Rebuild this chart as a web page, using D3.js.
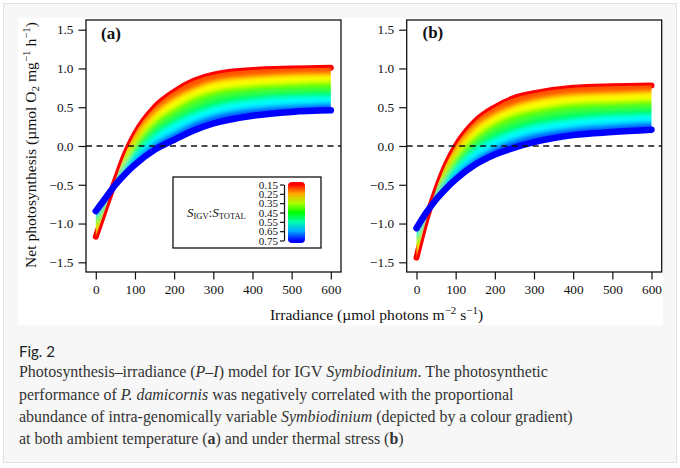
<!DOCTYPE html>
<html lang="en">
<head>
<meta charset="UTF-8">
<title>P–I model for IGV Symbiodinium</title>
<script src="https://d3js.org/d3.v7.min.js"></script>
<style>
  body { margin: 0; background: #fff; }
  svg { display: block; }
  .tick text { font-family: "Liberation Serif", serif; font-size: 13.3px; fill: #111; }
  .tick line { stroke: #111; stroke-width: 1.2; }
  .frame { fill: none; stroke: #111; stroke-width: 1.3; }
  .zero { stroke: #111; stroke-width: 1.4; stroke-dasharray: 6,4.5; }
  .axis-title { font-family: "Liberation Serif", serif; font-size: 15.6px; fill: #111; }
  .panel-tag { font-family: "Liberation Serif", serif; font-size: 17px; font-weight: bold; fill: #111; }
  .caption { font-family: "Liberation Serif", serif; font-size: 16px; fill: #333; }
  .fig-no { font-family: Lato, sans-serif; font-size: 15px; fill: #222; }
</style>
</head>
<body>
<div id="chart"></div>
<script>
const irradiance = [0, 25, 50, 75, 100, 150, 200, 250, 300, 400, 500, 600];
const ratioLevels = [0.15, 0.25, 0.35, 0.45, 0.55, 0.65, 0.75];

// net photosynthesis, one row per S_IGV:S_TOTAL level (0.15 -> 0.75)
const ambientNP = [
  [-1.17, -0.80, -0.44, -0.10, 0.16, 0.50, 0.70, 0.84, 0.92, 0.98, 1.00, 1.01],
  [-1.12, -0.78, -0.45, -0.14, 0.09, 0.41, 0.60, 0.73, 0.82, 0.88, 0.91, 0.92],
  [-1.06, -0.76, -0.46, -0.19, 0.03, 0.32, 0.49, 0.63, 0.71, 0.78, 0.81, 0.83],
  [-1.01, -0.74, -0.47, -0.23, -0.04, 0.23, 0.39, 0.52, 0.61, 0.69, 0.72, 0.73],
  [-0.95, -0.71, -0.48, -0.27, -0.11, 0.13, 0.29, 0.41, 0.50, 0.59, 0.63, 0.64],
  [-0.90, -0.69, -0.49, -0.32, -0.17, 0.04, 0.18, 0.31, 0.40, 0.49, 0.53, 0.55],
  [-0.84, -0.67, -0.50, -0.36, -0.24, -0.05, 0.08, 0.20, 0.29, 0.39, 0.44, 0.46]
];
const stressNP = [
  [-1.44, -0.95, -0.56, -0.24, 0.00, 0.32, 0.50, 0.62, 0.68, 0.75, 0.77, 0.78],
  [-1.38, -0.94, -0.58, -0.29, -0.07, 0.23, 0.40, 0.51, 0.58, 0.65, 0.67, 0.69],
  [-1.31, -0.92, -0.60, -0.34, -0.14, 0.13, 0.30, 0.41, 0.47, 0.55, 0.57, 0.59],
  [-1.25, -0.91, -0.63, -0.40, -0.22, 0.04, 0.20, 0.30, 0.37, 0.45, 0.48, 0.50],
  [-1.19, -0.89, -0.65, -0.45, -0.29, -0.05, 0.09, 0.19, 0.26, 0.34, 0.38, 0.40],
  [-1.12, -0.87, -0.67, -0.50, -0.36, -0.15, -0.01, 0.09, 0.16, 0.24, 0.28, 0.31],
  [-1.06, -0.86, -0.69, -0.55, -0.43, -0.24, -0.11, -0.02, 0.05, 0.14, 0.18, 0.21]
];

const xTicks = [0, 100, 200, 300, 400, 500, 600];
const yTicks = [-1.5, -1.0, -0.5, 0.0, 0.5, 1.0, 1.5];
const panelTags = ["(a)", "(b)"];

const captionLines = [
  [["Photosynthesis–irradiance ("], ["P–I", "i"], [") model for IGV "], ["Symbiodinium", "i"], [". The photosynthetic"]],
  [["performance of "], ["P. damicornis", "i"], [" was negatively correlated with the proportional"]],
  [["abundance of intra-genomically variable "], ["Symbiodinium", "i"], [" (depicted by a colour gradient)"]],
  [["at both ambient temperature ("], ["a", "b"], [") and under thermal stress ("], ["b", "b"], [")"]]
];

const W = 680, H = 468;
const svg = d3.select("#chart").append("svg").attr("width", W).attr("height", H);
const defs = svg.append("defs");

// page card + white figure
svg.append("rect").attr("x", 3.5).attr("y", 3.5).attr("width", 673).attr("height", 459)
  .attr("fill", "#f7f7f7").attr("stroke", "#e2e2e2");
svg.append("rect").attr("x", 18).attr("y", 18).attr("width", 645).attr("height", 307).attr("fill", "#fff");

const hue = d3.scaleLinear().domain([0.15, 0.75]).range([0, 240]);
const colour = s => d3.hsl(hue(s), 1, 0.5).formatHex();

const soft = defs.append("filter").attr("id", "soft")
  .attr("x", "-5%").attr("y", "-10%").attr("width", "110%").attr("height", "120%");
soft.append("feGaussianBlur").attr("stdDeviation", 2.4);
soft.append("feComponentTransfer").append("feFuncA").attr("type", "linear").attr("slope", 25);

const yTop = 20, yBot = 272;
const y = d3.scaleLinear().domain([-1.625, 1.625]).range([yBot, yTop]);

const panels = [
  { x0: 86, x1: 341, curves: ambientNP, tag: panelTags[0], tagX: 101, tagY: 39 },
  { x0: 406.7, x1: 661.7, curves: stressNP, tag: panelTags[1], tagX: 422.5, tagY: 38 }
];

panels.forEach((p, k) => {
  const x = d3.scaleLinear().domain([-25, 626]).range([p.x0, p.x1]);
  const g = svg.append("g");

  const line = d3.line().x((d, i) => x(irradiance[i])).y(d => y(d)).curve(d3.curveMonotoneX);
  const band = (lo, hi) => d3.area()
    .x((d, i) => x(irradiance[i]))
    .y0((d, i) => y(lo[i])).y1((d, i) => y(hi[i]))
    .curve(d3.curveMonotoneX)(irradiance);
  const last = p.curves.length - 1;

  // lowest ratio (red) sits underneath the colour band
  g.append("path").attr("d", line(p.curves[0])).attr("fill", "none")
    .attr("stroke", colour(ratioLevels[0])).attr("stroke-width", 6).attr("stroke-linecap", "round");

  // clip for the soft colour band
  const clip = defs.append("clipPath").attr("id", "band-clip-" + k);
  for (let i = 0; i < last; i++) {
    clip.append("path").attr("d", band(p.curves[i], p.curves[i + 1]));
  }

  const bands = g.append("g").attr("clip-path", `url(#band-clip-${k})`)
    .append("g").attr("filter", "url(#soft)");
  for (let i = 0; i < last; i++) {
    const mid = (ratioLevels[i] + ratioLevels[i + 1]) / 2;
    bands.append("path").attr("d", band(p.curves[i], p.curves[i + 1])).attr("fill", colour(mid));
  }

  // highest ratio (blue) drawn last, on top
  g.append("path").attr("d", line(p.curves[last])).attr("fill", "none")
    .attr("stroke", colour(ratioLevels[last])).attr("stroke-width", 6.5).attr("stroke-linecap", "round");

  // zero reference
  g.append("line").attr("class", "zero")
    .attr("x1", p.x0).attr("x2", p.x1).attr("y1", y(0)).attr("y2", y(0));

  // axes
  g.append("g").attr("transform", `translate(${p.x0},0)`)
    .call(d3.axisLeft(y).tickValues(yTicks).tickSize(7.5).tickPadding(5).tickFormat(d3.format(".1f")))
    .call(a => a.select(".domain").remove());
  g.append("g").attr("transform", `translate(0,${yBot})`)
    .call(d3.axisBottom(x).tickValues(xTicks).tickSize(7.5).tickPadding(5))
    .call(a => a.select(".domain").remove());

  g.append("rect").attr("class", "frame")
    .attr("x", p.x0).attr("y", yTop).attr("width", p.x1 - p.x0).attr("height", yBot - yTop);

  g.append("text").attr("class", "panel-tag").attr("x", p.tagX).attr("y", p.tagY).text(p.tag);
});

// legend in panel (a)
const lg = svg.append("g");
lg.append("rect").attr("x", 173).attr("y", 177).attr("width", 148).attr("height", 71)
  .attr("fill", "#fff").attr("stroke", "#111").attr("stroke-width", 1.3);

const ls = d3.scaleLinear().domain([0.15, 0.75]).range([184.5, 240.5]);
const barY = 182, barH = 61;
const grad = defs.append("linearGradient").attr("id", "ratio-grad")
  .attr("x1", 0).attr("y1", 0).attr("x2", 0).attr("y2", 1);
ratioLevels.forEach(s => {
  grad.append("stop").attr("offset", (ls(s) - barY) / barH).attr("stop-color", colour(s));
});
lg.append("rect").attr("x", 288).attr("y", barY).attr("width", 17).attr("height", barH)
  .attr("rx", 4).attr("fill", "url(#ratio-grad)");

lg.append("g").attr("transform", "translate(284,0)")
  .call(d3.axisLeft(ls).tickValues(ratioLevels).tickSize(4).tickSizeOuter(0).tickPadding(2)
    .tickFormat(d3.format(".2f")))
  .call(a => a.select(".domain").attr("stroke", "#111").attr("stroke-width", 1.2))
  .call(a => a.selectAll(".tick text").style("font-size", "11px"));

const lt = lg.append("text").attr("x", 187).attr("y", 217)
  .attr("font-family", "Liberation Serif, serif").attr("fill", "#111");
lt.append("tspan").attr("font-style", "italic").attr("font-size", 13).text("S");
lt.append("tspan").attr("font-size", 8.5).attr("dy", 1.5).text("IGV");
lt.append("tspan").attr("font-size", 13).attr("dy", -1.5).text(":");
lt.append("tspan").attr("font-style", "italic").attr("font-size", 13).text("S");
lt.append("tspan").attr("font-size", 8.5).attr("dy", 1.5).text("TOTAL");

// axis titles
const yt = svg.append("text").attr("class", "axis-title")
  .attr("transform", "translate(36,145) rotate(-90)").attr("text-anchor", "middle");
yt.append("tspan").text("Net photosynthesis (µmol O");
yt.append("tspan").attr("font-size", "70%").attr("dy", 3).text("2");
yt.append("tspan").attr("dy", -3).text(" mg");
yt.append("tspan").attr("font-size", "70%").attr("dy", -6).text("−1");
yt.append("tspan").attr("dy", 6).text(" h");
yt.append("tspan").attr("font-size", "70%").attr("dy", -6).text("−1");
yt.append("tspan").attr("dy", 6).text(")");

const xt = svg.append("text").attr("class", "axis-title")
  .attr("x", 376.5).attr("y", 320).attr("text-anchor", "middle");
xt.append("tspan").text("Irradiance (µmol photons m");
xt.append("tspan").attr("font-size", "70%").attr("dy", -6).text("−2");
xt.append("tspan").attr("dy", 6).text(" s");
xt.append("tspan").attr("font-size", "70%").attr("dy", -6).text("−1");
xt.append("tspan").attr("dy", 6).text(")");

// caption
svg.append("text").attr("class", "fig-no").attr("x", 19).attr("y", 357).text("Fig. 2");

const capY = [377, 399.5, 421.5, 443.5];
const capText = captionLines.map((segs, i) => {
  const t = svg.append("text").attr("class", "caption").attr("x", 19).attr("y", capY[i]);
  segs.forEach(([s, st]) => {
    const ts = t.append("tspan").text(s);
    if (st === "i") ts.attr("font-style", "italic");
    if (st === "b") ts.attr("font-weight", "bold");
  });
  return t;
});
const k = 554 / capText[2].node().getComputedTextLength();
capText.forEach(t => t.style("font-size", (16 * k) + "px"));
</script>
</body>
</html>
